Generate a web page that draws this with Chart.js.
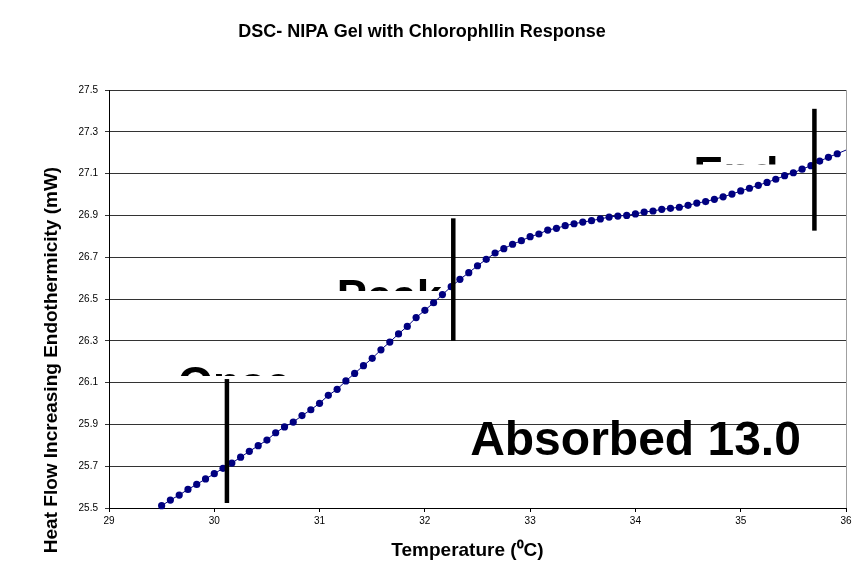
<!DOCTYPE html>
<html><head><meta charset="utf-8">
<script src="https://cdn.jsdelivr.net/npm/chart.js@4.4.1/dist/chart.umd.min.js"></script>
<style>html,body{margin:0;padding:0;background:#fff}#wrap{width:855px;height:568px;position:relative}</style>
</head><body><div id="wrap"><canvas id="c" width="855" height="568"></canvas></div>
<script>
// ---- data ----
const temperatures = [29.500,29.583,29.667,29.750,29.833,29.917,30.000,30.083,30.167,30.250,
  30.333,30.417,30.500,30.583,30.667,30.750,30.833,30.917,31.000,31.083,
  31.167,31.250,31.333,31.417,31.500,31.583,31.667,31.750,31.833,31.917,
  32.000,32.083,32.167,32.250,32.333,32.417,32.500,32.583,32.667,32.750,
  32.833,32.917,33.000,33.083,33.167,33.250,33.333,33.417,33.500,33.583,
  33.667,33.750,33.833,33.917,34.000,34.083,34.167,34.250,34.333,34.417,
  34.500,34.583,34.667,34.750,34.833,34.917,35.000,35.083,35.167,35.250,
  35.333,35.417,35.500,35.583,35.667,35.750,35.833,35.917,36.083];
const heatFlow = [25.511,25.538,25.562,25.589,25.613,25.639,25.664,25.690,25.715,25.743,
  25.771,25.798,25.825,25.860,25.888,25.911,25.942,25.970,26.001,26.039,
  26.068,26.108,26.144,26.181,26.216,26.257,26.294,26.333,26.369,26.411,
  26.446,26.482,26.521,26.559,26.594,26.626,26.659,26.690,26.720,26.741,
  26.762,26.779,26.798,26.811,26.830,26.838,26.851,26.860,26.868,26.875,
  26.883,26.892,26.897,26.900,26.907,26.916,26.921,26.929,26.934,26.939,
  26.948,26.959,26.966,26.977,26.989,27.002,27.017,27.030,27.044,27.058,
  27.073,27.090,27.104,27.121,27.138,27.160,27.178,27.195,27.230];
const onsetLine = [[30.12,25.524],[30.12,26.117]];
const peakLine  = [[32.27,26.300],[32.27,26.886]];
const endLine   = [[35.70,26.827],[35.70,27.410]];
const xTicks = [29,30,31,32,33,34,35,36];
const yTicks = [25.5,25.7,25.9,26.1,26.3,26.5,26.7,26.9,27.1,27.3,27.5];
const chartTitle = 'DSC- NIPA Gel with Chlorophllin Response';
const xTitle = 'Temperature (\u2070C)';
const yTitle = 'Heat Flow Increasing Endothermicity (mW)';
const eventLabels = ['Onset','Peak','End'];
const resultLabel = 'Absorbed 13.0';

const FONT = '"Liberation Sans", Arial, sans-serif';
const toPts = a => a.map(p => ({x:p[0], y:p[1]}));

const textPlugin = {
  id: 'texts',
  beforeDatasetsDraw(chart) {
    const {ctx, scales:{x, y}} = chart;
    // clipped event labels: [left x, cap-top y, clip bottom y, clip right x] in data units
    const pos = [[29.656,26.179,26.131,30.727],[31.163,26.596,26.538,36],[34.551,27.184,27.144,36]];
    const fs = 45;
    eventLabels.forEach((t, i) => {
      const px = x.getPixelForValue(pos[i][0]);
      const top = y.getPixelForValue(pos[i][1]);
      const clipY = y.getPixelForValue(pos[i][2]);
      const clipX = x.getPixelForValue(pos[i][3]);
      ctx.save();
      ctx.beginPath(); ctx.rect(0, 0, clipX, clipY); ctx.clip();
      ctx.font = 'bold ' + fs + 'px ' + FONT;
      ctx.fillStyle = '#000'; ctx.textBaseline = 'alphabetic'; ctx.textAlign = 'left';
      ctx.fillText(t, px, top + 0.716 * fs);
      ctx.restore();
    });
    ctx.save();
    ctx.font = 'bold 48px ' + FONT;
    ctx.fillStyle = '#000'; ctx.textBaseline = 'alphabetic'; ctx.textAlign = 'left';
    ctx.fillText(resultLabel, x.getPixelForValue(32.43), y.getPixelForValue(25.753));
    ctx.restore();
  },
  afterDraw(chart) {
    const {ctx, chartArea:a} = chart;
    ctx.save();
    ctx.strokeStyle = '#a0a0a0'; ctx.lineWidth = 1;
    ctx.beginPath(); ctx.moveTo(a.right + 0.5, a.top); ctx.lineTo(a.right + 0.5, a.bottom); ctx.stroke();
    ctx.fillStyle = '#000';
    ctx.textAlign = 'center'; ctx.textBaseline = 'middle';
    ctx.font = 'bold 18px ' + FONT;
    ctx.fillText(chartTitle, 422, 32);
    ctx.font = 'bold 19px ' + FONT;
    ctx.fillText(xTitle, (a.left + a.right) / 2 - 10, 551);
    ctx.translate(52, 360); ctx.rotate(-Math.PI / 2);
    ctx.fillText(yTitle, 0, 0);
    ctx.restore();
  }
};

const barStyle = {borderColor:'#000', borderWidth:4.5, pointRadius:0, borderCapStyle:'butt', fill:false, order:1};

new Chart(document.getElementById('c'), {
  type: 'line',
  data: {
    datasets: [
      Object.assign({data: toPts(onsetLine)}, barStyle),
      Object.assign({data: toPts(peakLine)}, barStyle),
      Object.assign({data: toPts(endLine)}, barStyle),
      {
        data: temperatures.map((t, i) => ({x:t, y:heatFlow[i]})),
        borderColor:'#000080', borderWidth:1,
        pointRadius:3.6, pointBorderWidth:0,
        pointBackgroundColor:'#000080', pointBorderColor:'#000080',
        clip:{left:6, top:6, right:0, bottom:6},
        order:2
      }
    ]
  },
  options: {
    responsive:false, animation:false, devicePixelRatio:1,
    layout:{padding:{left:0, right:9, top:90, bottom:0}},
    plugins:{legend:{display:false}, title:{display:false}, tooltip:{enabled:false}},
    scales:{
      x:{type:'linear', min:29, max:36,
        afterBuildTicks: s => { s.ticks = xTicks.map(v => ({value:v})); },
        afterFit: s => { s.height = 60; },
        ticks:{font:{family:FONT, size:10}, color:'#000', padding:3, maxRotation:0},
        grid:{drawOnChartArea:false, color:'#000', tickLength:4},
        border:{color:'#000', width:1}
      },
      y:{type:'linear', min:25.5, max:27.5,
        afterBuildTicks: s => { s.ticks = yTicks.map(v => ({value:v})); },
        afterFit: s => { s.width = 109; },
        ticks:{font:{family:FONT, size:10}, color:'#000', padding:7, callback: v => Number(v).toFixed(1)},
        grid:{color:'#333', tickLength:4},
        border:{color:'#000', width:1}
      }
    }
  },
  plugins:[textPlugin]
});
</script></body></html>
